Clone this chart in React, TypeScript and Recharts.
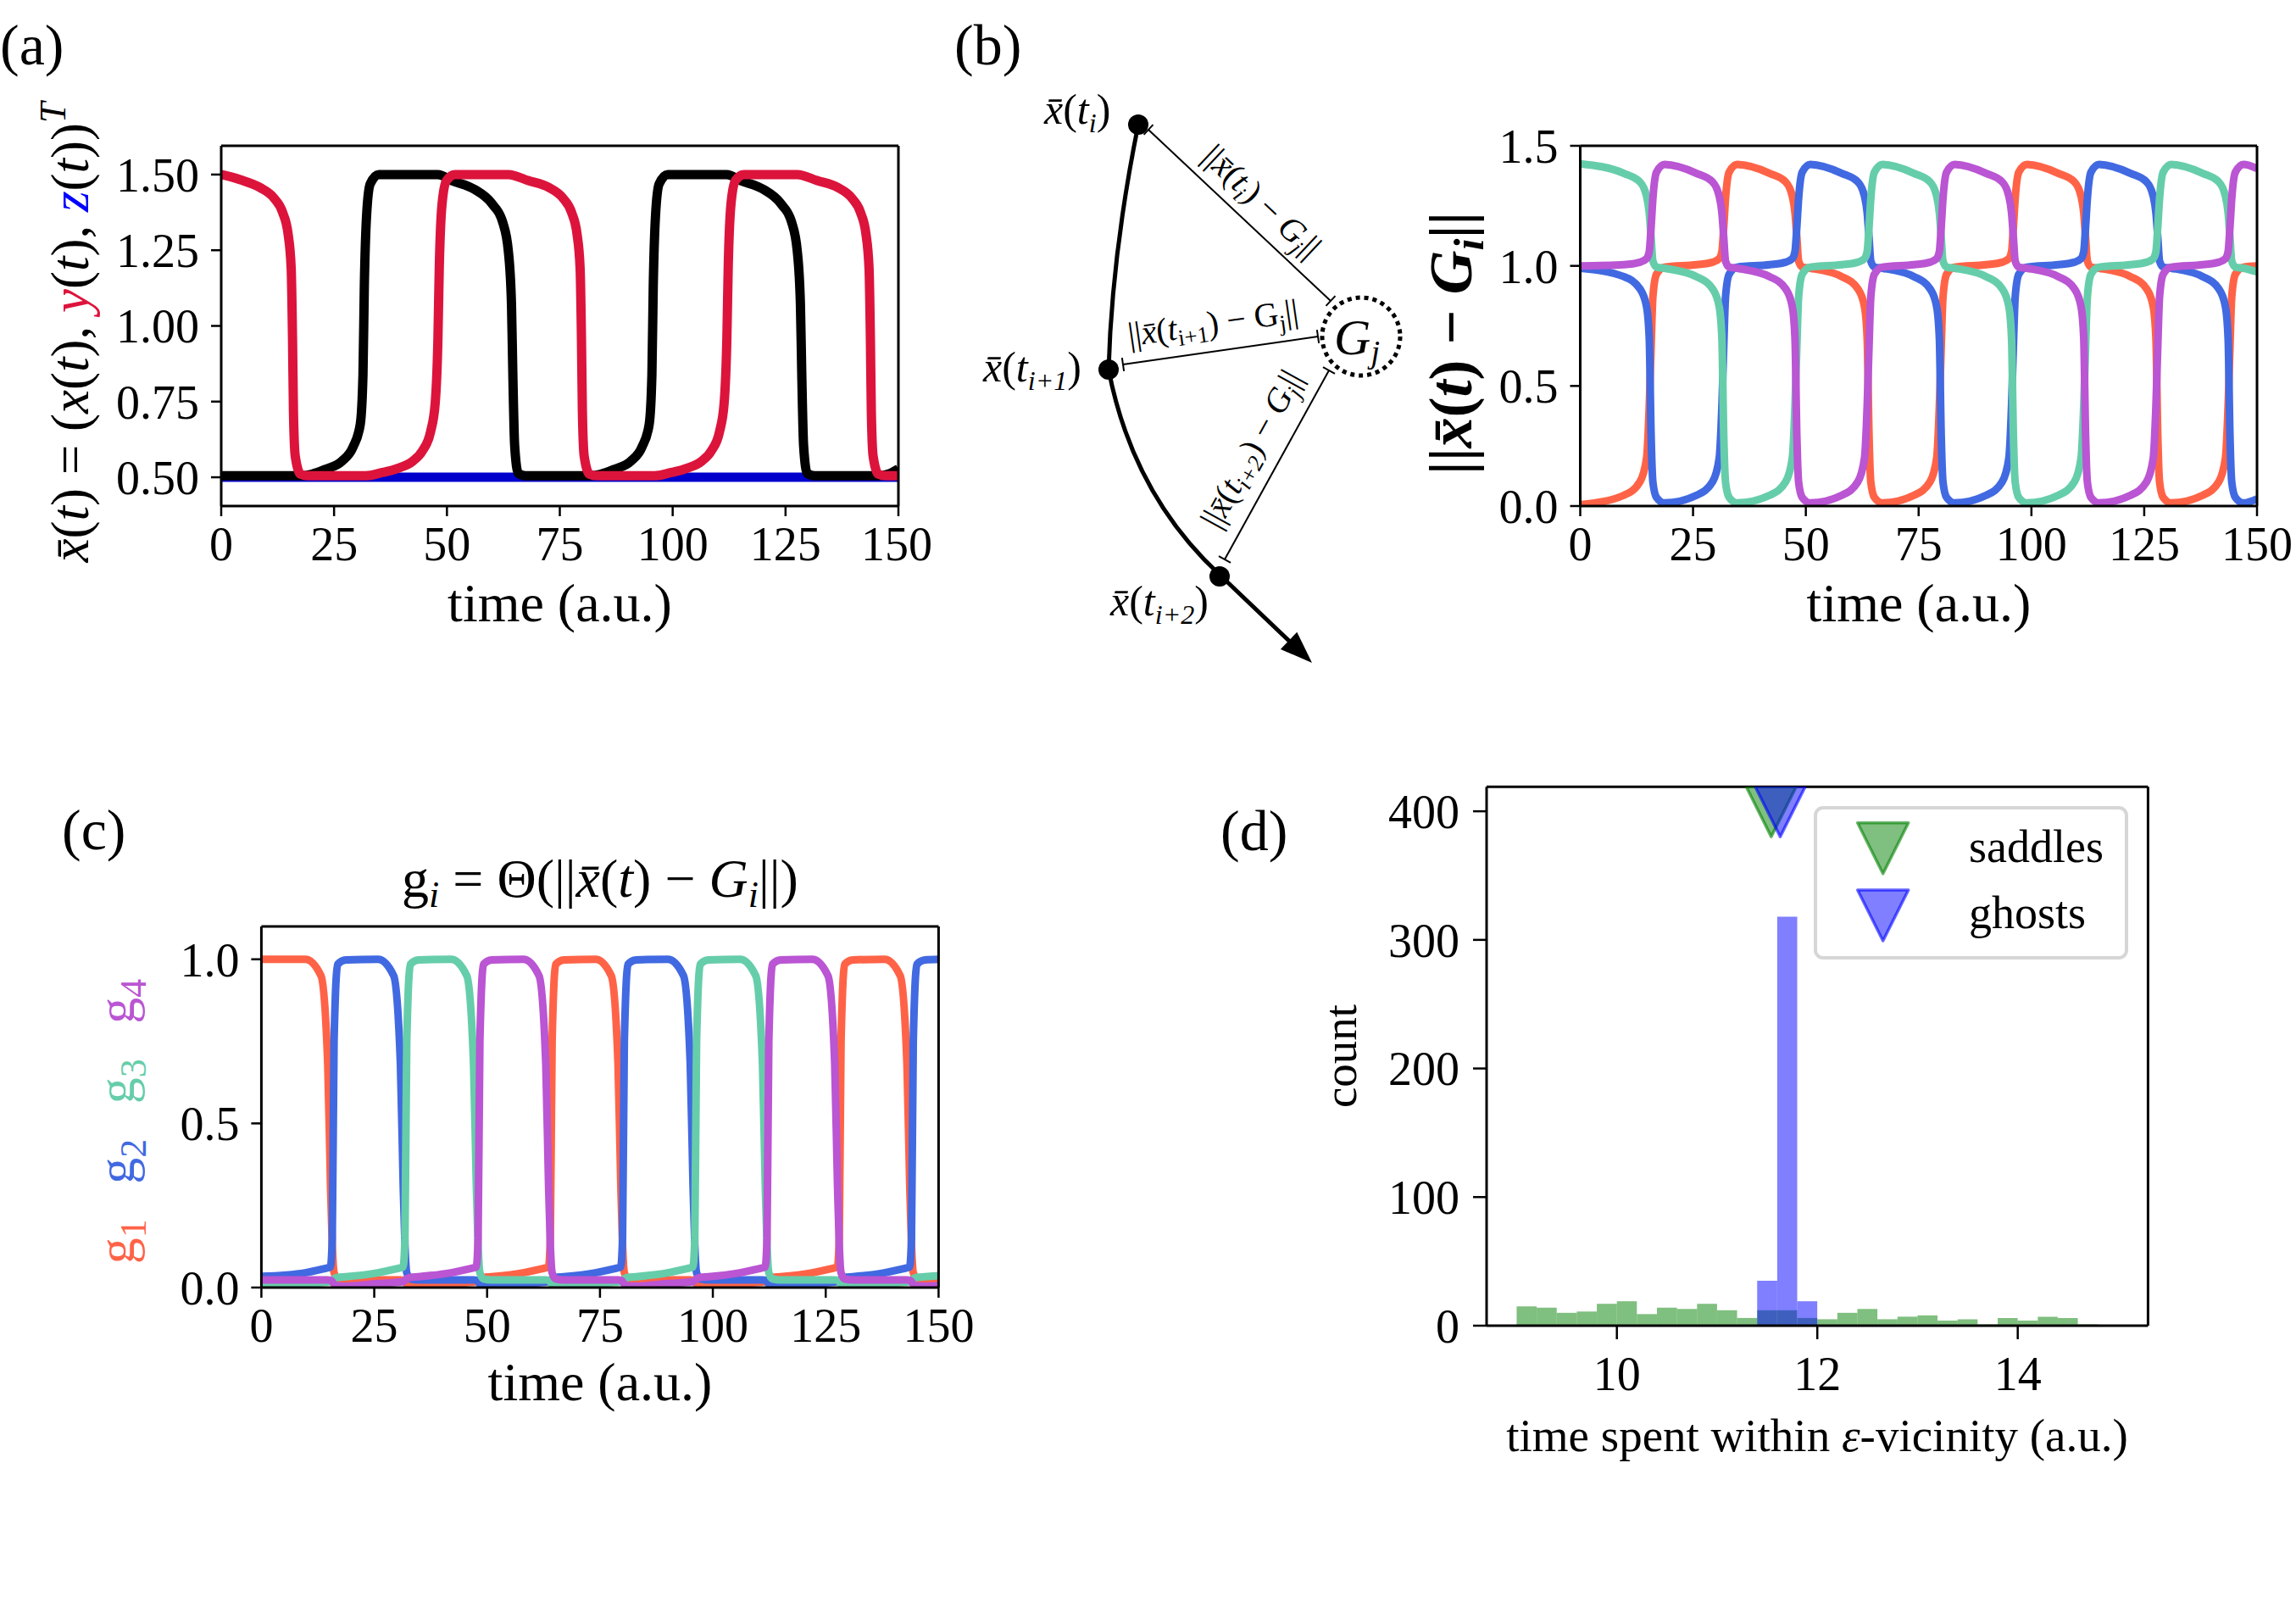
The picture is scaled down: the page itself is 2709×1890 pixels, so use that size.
import React from 'react';
import { LineChart, Line, XAxis, YAxis, ComposedChart, Bar, Scatter, ReferenceLine } from 'recharts';

const FONT = '"Liberation Serif", "Times New Roman", serif';

// ---------- panel (a): x(t), y(t), z(t) ----------
const xCurve: [number, number][] = [
  [0, 0.505], [17.6, 0.505], [20, 0.51], [23, 0.526], [26.7, 0.553], [29.2, 0.6], [30.8, 0.675],
  [31.4, 0.838], [31.7, 1.13], [32.2, 1.364], [33, 1.469], [34.9, 1.5], [48, 1.5], [51.1, 1.48],
  [56.1, 1.451], [59.9, 1.405], [62.4, 1.34], [63.6, 1.247], [64.3, 1.07], [64.6, 0.838],
  [65, 0.605], [65.8, 0.513], [67.4, 0.505], [81.6, 0.505], [84, 0.51], [87, 0.526],
  [90.7, 0.553], [93.2, 0.6], [94.8, 0.675], [95.4, 0.838], [95.7, 1.13], [96.2, 1.364],
  [97, 1.469], [98.9, 1.5], [112, 1.5], [115.1, 1.48], [120.1, 1.451], [123.9, 1.405],
  [126.4, 1.34], [127.6, 1.247], [128.3, 1.07], [128.6, 0.838], [129, 0.605], [129.8, 0.513],
  [131.4, 0.505], [145.6, 0.505], [148, 0.512], [150, 0.528],
];
const yCurve: [number, number][] = [
  [0, 1.5], [4.2, 1.483], [8.6, 1.457], [11.7, 1.422], [13.6, 1.375], [14.8, 1.305], [15.5, 1.19],
  [15.8, 0.955], [16, 0.72], [16.4, 0.57], [17.6, 0.51], [19.2, 0.505], [32, 0.505], [35.5, 0.515],
  [39.2, 0.53], [42.4, 0.553], [44.6, 0.588], [46.4, 0.652], [47.4, 0.745], [48, 0.955],
  [48.3, 1.19], [48.9, 1.4], [49.9, 1.48], [51.8, 1.5], [63.6, 1.5], [68, 1.48], [72.6, 1.457],
  [75.7, 1.422], [77.6, 1.375], [78.8, 1.305], [79.5, 1.19], [79.8, 0.955], [80, 0.72],
  [80.4, 0.57], [81.6, 0.51], [83.2, 0.505], [96, 0.505], [99.5, 0.515], [103.2, 0.53],
  [106.4, 0.553], [108.6, 0.588], [110.4, 0.652], [111.4, 0.745], [112, 0.955], [112.3, 1.19],
  [112.9, 1.4], [113.9, 1.48], [115.8, 1.5], [127.6, 1.5], [132, 1.48], [136.6, 1.457],
  [139.7, 1.422], [141.6, 1.375], [142.8, 1.305], [143.5, 1.19], [143.8, 0.955], [144, 0.72],
  [144.4, 0.57], [145.6, 0.51], [147.2, 0.505], [150, 0.505],
];
const zCurve: [number, number][] = [[0, 0.5], [150, 0.5]];

const timeTicks = [0, 25, 50, 75, 100, 125, 150];
const stateTicks = [0.5, 0.75, 1.0, 1.25, 1.5];

// ---------- panels (b) and (c): shared time grid ----------
const tGrid = [
  0,
  9.7, 13.2, 14.7, 15.3, 15.7, 16.1, 16.9, 18.7,
  25.8, 29.3, 30.8, 31.4, 31.8, 32.2, 33.0, 34.8,
  42.0, 45.5, 47.0, 47.6, 48.0, 48.4, 49.2, 51.0,
  58.0, 61.5, 63.0, 63.6, 64.0, 64.4, 65.2, 67.0,
  74.0, 77.5, 79.0, 79.6, 80.0, 80.4, 81.2, 83.0,
  90.0, 93.5, 95.0, 95.6, 96.0, 96.4, 97.2, 99.0,
  106.0, 109.5, 111.0, 111.6, 112.0, 112.4, 113.2, 115.0,
  122.0, 125.5, 127.0, 127.6, 128.0, 128.4, 129.2, 131.0,
  138.0, 141.5, 143.0, 143.6, 144.0, 144.4, 145.2, 147.0,
  150,
];

// ||x(t) - G_i||
const distG1 = [
  0.005,
  0.045, 0.10, 0.20, 0.42, 0.66, 0.87, 0.965, 0.995,
  1.005, 1.015, 1.03, 1.06, 1.16, 1.28, 1.39, 1.422,
  1.385, 1.35, 1.29, 1.22, 1.12, 1.02, 0.995, 0.99,
  0.955, 0.905, 0.83, 0.695, 0.30, 0.10, 0.036, 0.013,
  0.045, 0.10, 0.20, 0.42, 0.66, 0.87, 0.965, 0.995,
  1.005, 1.015, 1.03, 1.06, 1.16, 1.28, 1.39, 1.422,
  1.385, 1.35, 1.29, 1.22, 1.12, 1.02, 0.995, 0.99,
  0.955, 0.905, 0.83, 0.695, 0.30, 0.10, 0.036, 0.013,
  0.045, 0.10, 0.20, 0.42, 0.66, 0.87, 0.965, 0.995,
  1.0,
];
const distG2 = [
  0.99,
  0.955, 0.905, 0.83, 0.695, 0.30, 0.10, 0.036, 0.013,
  0.045, 0.10, 0.20, 0.42, 0.66, 0.87, 0.965, 0.995,
  1.005, 1.015, 1.03, 1.06, 1.16, 1.28, 1.39, 1.422,
  1.385, 1.35, 1.29, 1.22, 1.12, 1.02, 0.995, 0.99,
  0.955, 0.905, 0.83, 0.695, 0.30, 0.10, 0.036, 0.013,
  0.045, 0.10, 0.20, 0.42, 0.66, 0.87, 0.965, 0.995,
  1.005, 1.015, 1.03, 1.06, 1.16, 1.28, 1.39, 1.422,
  1.385, 1.35, 1.29, 1.22, 1.12, 1.02, 0.995, 0.99,
  0.955, 0.905, 0.83, 0.695, 0.30, 0.10, 0.036, 0.013,
  0.03,
];
const distG3 = [
  1.425,
  1.385, 1.35, 1.29, 1.22, 1.12, 1.02, 0.995, 0.99,
  0.955, 0.905, 0.83, 0.695, 0.30, 0.10, 0.036, 0.013,
  0.045, 0.10, 0.20, 0.42, 0.66, 0.87, 0.965, 0.995,
  1.005, 1.015, 1.03, 1.06, 1.16, 1.28, 1.39, 1.422,
  1.385, 1.35, 1.29, 1.22, 1.12, 1.02, 0.995, 0.99,
  0.955, 0.905, 0.83, 0.695, 0.30, 0.10, 0.036, 0.013,
  0.045, 0.10, 0.20, 0.42, 0.66, 0.87, 0.965, 0.995,
  1.005, 1.015, 1.03, 1.06, 1.16, 1.28, 1.39, 1.422,
  1.385, 1.35, 1.29, 1.22, 1.12, 1.02, 0.995, 0.99,
  0.975,
];
const distG4 = [
  1.0,
  1.005, 1.015, 1.03, 1.06, 1.16, 1.28, 1.39, 1.422,
  1.385, 1.35, 1.29, 1.22, 1.12, 1.02, 0.995, 0.99,
  0.955, 0.905, 0.83, 0.695, 0.30, 0.10, 0.036, 0.013,
  0.045, 0.10, 0.20, 0.42, 0.66, 0.87, 0.965, 0.995,
  1.005, 1.015, 1.03, 1.06, 1.16, 1.28, 1.39, 1.422,
  1.385, 1.35, 1.29, 1.22, 1.12, 1.02, 0.995, 0.99,
  0.955, 0.905, 0.83, 0.695, 0.30, 0.10, 0.036, 0.013,
  0.045, 0.10, 0.20, 0.42, 0.66, 0.87, 0.965, 0.995,
  1.005, 1.015, 1.03, 1.06, 1.16, 1.28, 1.39, 1.422,
  1.405,
];

// g_i = Theta(||x(t) - G_i||)
const gate1 = [
  1.0,
  1.0, 0.95, 0.68, 0.32, 0.13, 0.045, 0.026, 0.023,
  0.023, 0.023, 0.023, 0.022, 0.018, 0.01, 0.005, 0.004,
  0.012, 0.015, 0.017, 0.018, 0.021, 0.027, 0.031, 0.033,
  0.045, 0.055, 0.06, 0.063, 0.15, 0.75, 0.985, 0.998,
  1.0, 0.95, 0.68, 0.32, 0.13, 0.045, 0.026, 0.023,
  0.023, 0.023, 0.023, 0.022, 0.018, 0.01, 0.005, 0.004,
  0.012, 0.015, 0.017, 0.018, 0.021, 0.027, 0.031, 0.033,
  0.045, 0.055, 0.06, 0.063, 0.15, 0.75, 0.985, 0.998,
  1.0, 0.95, 0.68, 0.32, 0.13, 0.045, 0.026, 0.023,
  0.023,
];
const gate2 = [
  0.034,
  0.045, 0.055, 0.06, 0.063, 0.15, 0.75, 0.985, 0.998,
  1.0, 0.95, 0.68, 0.32, 0.13, 0.045, 0.026, 0.023,
  0.023, 0.023, 0.023, 0.022, 0.018, 0.01, 0.005, 0.004,
  0.012, 0.015, 0.017, 0.018, 0.021, 0.027, 0.031, 0.033,
  0.045, 0.055, 0.06, 0.063, 0.15, 0.75, 0.985, 0.998,
  1.0, 0.95, 0.68, 0.32, 0.13, 0.045, 0.026, 0.023,
  0.023, 0.023, 0.023, 0.022, 0.018, 0.01, 0.005, 0.004,
  0.012, 0.015, 0.017, 0.018, 0.021, 0.027, 0.031, 0.033,
  0.045, 0.055, 0.06, 0.063, 0.15, 0.75, 0.985, 0.998,
  1.0,
];
const gate3 = [
  0.004,
  0.012, 0.015, 0.017, 0.018, 0.021, 0.027, 0.031, 0.033,
  0.045, 0.055, 0.06, 0.063, 0.15, 0.75, 0.985, 0.998,
  1.0, 0.95, 0.68, 0.32, 0.13, 0.045, 0.026, 0.023,
  0.023, 0.023, 0.023, 0.022, 0.018, 0.01, 0.005, 0.004,
  0.012, 0.015, 0.017, 0.018, 0.021, 0.027, 0.031, 0.033,
  0.045, 0.055, 0.06, 0.063, 0.15, 0.75, 0.985, 0.998,
  1.0, 0.95, 0.68, 0.32, 0.13, 0.045, 0.026, 0.023,
  0.023, 0.023, 0.023, 0.022, 0.018, 0.01, 0.005, 0.004,
  0.012, 0.015, 0.017, 0.018, 0.021, 0.027, 0.031, 0.033,
  0.036,
];
const gate4 = [
  0.023,
  0.023, 0.023, 0.023, 0.022, 0.018, 0.01, 0.005, 0.004,
  0.012, 0.015, 0.017, 0.018, 0.021, 0.027, 0.031, 0.033,
  0.045, 0.055, 0.06, 0.063, 0.15, 0.75, 0.985, 0.998,
  1.0, 0.95, 0.68, 0.32, 0.13, 0.045, 0.026, 0.023,
  0.023, 0.023, 0.023, 0.022, 0.018, 0.01, 0.005, 0.004,
  0.012, 0.015, 0.017, 0.018, 0.021, 0.027, 0.031, 0.033,
  0.045, 0.055, 0.06, 0.063, 0.15, 0.75, 0.985, 0.998,
  1.0, 0.95, 0.68, 0.32, 0.13, 0.045, 0.026, 0.023,
  0.023, 0.023, 0.023, 0.022, 0.018, 0.01, 0.005, 0.004,
  0.006,
];

const ghostColors = ['#ff6347', '#4169e1', '#66cdaa', '#ba55d3'];

// ---------- panel (d): histogram ----------
const binCenters = [
  9.1, 9.3, 9.5, 9.7, 9.9, 10.1, 10.3, 10.5, 10.7, 10.9, 11.1, 11.3, 11.5, 11.7, 11.9,
  12.1, 12.3, 12.5, 12.7, 12.9, 13.1, 13.3, 13.5, 13.7, 13.9, 14.1, 14.3, 14.5, 14.7, 14.9,
];
const saddleCounts = [
  15, 14, 10, 11, 17, 19, 9, 14, 13, 17, 12, 6, 12, 12, 6,
  5, 10, 13, 5, 7, 8, 4, 5, 1, 6, 4, 7, 6, 1, 0,
];
const ghostBins = [11.5, 11.7, 11.9];
const ghostCounts = [35, 318, 19];
const saddleMean = [{ x: 11.54, y: 400 }];
const ghostMean = [{ x: 11.63, y: 400 }];

const tickStyle = { fontSize: 56, fill: '#000', fontFamily: 'Liberation Serif' };
const axisLine = { stroke: '#000', strokeWidth: 3 };
const tickLine = { stroke: '#000', strokeWidth: 2.5 };

const curveRows = (pts: [number, number][]) => pts.map(([t, v]) => ({ t, v }));
const distRows = tGrid.map((t, i) => ({ t, g1: distG1[i], g2: distG2[i], g3: distG3[i], g4: distG4[i] }));
const gateRows = tGrid.map((t, i) => ({ t, g1: gate1[i], g2: gate2[i], g3: gate3[i], g4: gate4[i] }));
const histRows = binCenters.map((x, i) => {
  const k = ghostBins.indexOf(x);
  return { x, saddles: saddleCounts[i], ghosts: k >= 0 ? ghostCounts[k] : 0 };
});

const triangle = (color: string) => (props: any) => {
  const { cx, cy } = props;
  const h = 30;
  return (
    <path
      d={`M${cx - h},${cy - h}L${cx + h},${cy - h}L${cx},${cy + h}Z`}
      fill={color}
      fillOpacity={0.5}
      stroke={color}
      strokeOpacity={0.6}
      strokeWidth={3.5}
      strokeLinejoin="round"
    />
  );
};

function Bracket({ x1, y1, x2, y2 }: { x1: number; y1: number; x2: number; y2: number }) {
  const len = Math.hypot(x2 - x1, y2 - y1);
  const nx = (-(y2 - y1) / len) * 8;
  const ny = ((x2 - x1) / len) * 8;
  return (
    <g stroke="#000" strokeWidth={2}>
      <line x1={x1} y1={y1} x2={x2} y2={y2} />
      <line x1={x1 - nx} y1={y1 - ny} x2={x1 + nx} y2={y1 + ny} />
      <line x1={x2 - nx} y1={y2 - ny} x2={x2 + nx} y2={y2 + ny} />
    </g>
  );
}

const XBAR = 'x\u0304';

export default function App() {
  return (
    <div style={{ position: 'relative', width: 2709, height: 1890, background: '#fff', fontFamily: FONT }}>
      <style>{'body{margin:0;background:#fff}'}</style>

      {/* (a) */}
      <div style={{ position: 'absolute', left: 0, top: 100 }}>
        <LineChart width={1100} height={577} margin={{ top: 72, right: 40, bottom: 0, left: 0 }}>
          <XAxis dataKey="t" type="number" domain={[0, 150]} ticks={timeTicks} height={80}
            tick={tickStyle} tickSize={12} tickMargin={12} axisLine={axisLine} tickLine={tickLine} allowDataOverflow />
          <YAxis type="number" domain={[0.405, 1.595]} ticks={stateTicks} width={261}
            tickFormatter={(v: number) => v.toFixed(2)} tick={tickStyle} tickSize={12} tickMargin={14}
            axisLine={axisLine} tickLine={tickLine} allowDataOverflow />
          <Line data={curveRows(zCurve)} dataKey="v" type="linear" stroke="#0000cd" strokeWidth={11}
            dot={false} isAnimationActive={false} />
          <Line data={curveRows(xCurve)} dataKey="v" type="monotone" stroke="#000" strokeWidth={11}
            dot={false} isAnimationActive={false} strokeLinejoin="round" />
          <Line data={curveRows(yCurve)} dataKey="v" type="monotone" stroke="#dc143c" strokeWidth={11}
            dot={false} isAnimationActive={false} strokeLinejoin="round" />
          <ReferenceLine y={1.595} stroke="#000" strokeWidth={3} />
          <ReferenceLine x={150} stroke="#000" strokeWidth={3} />
        </LineChart>
      </div>

      {/* (b) right */}
      <div style={{ position: 'absolute', left: 1600, top: 100 }}>
        <LineChart width={1109} height={577} data={distRows} margin={{ top: 72, right: 46, bottom: 0, left: 0 }}>
          <XAxis dataKey="t" type="number" domain={[0, 150]} ticks={timeTicks} height={80}
            tick={tickStyle} tickSize={12} tickMargin={12} axisLine={axisLine} tickLine={tickLine} allowDataOverflow />
          <YAxis type="number" domain={[0, 1.5]} ticks={[0, 0.5, 1, 1.5]} width={264.5}
            tickFormatter={(v: number) => v.toFixed(1)} tick={tickStyle} tickSize={12} tickMargin={14}
            axisLine={axisLine} tickLine={tickLine} allowDataOverflow />
          {['g1', 'g2', 'g3', 'g4'].map((k, i) => (
            <Line key={k} dataKey={k} type="monotone" stroke={ghostColors[i]} strokeWidth={9}
              dot={false} isAnimationActive={false} strokeLinejoin="round" />
          ))}
          <ReferenceLine y={1.5} stroke="#000" strokeWidth={3} />
          <ReferenceLine x={150} stroke="#000" strokeWidth={3} />
        </LineChart>
      </div>

      {/* (c) */}
      <div style={{ position: 'absolute', left: 0, top: 1000 }}>
        <LineChart width={1150} height={599} data={gateRows} margin={{ top: 93, right: 42.6, bottom: 0, left: 0 }}>
          <XAxis dataKey="t" type="number" domain={[0, 150]} ticks={timeTicks} height={80}
            tick={tickStyle} tickSize={12} tickMargin={12} axisLine={axisLine} tickLine={tickLine} allowDataOverflow />
          <YAxis type="number" domain={[0, 1.1]} ticks={[0, 0.5, 1]} width={308.4}
            tickFormatter={(v: number) => v.toFixed(1)} tick={tickStyle} tickSize={12} tickMargin={14}
            axisLine={axisLine} tickLine={tickLine} allowDataOverflow />
          {['g1', 'g2', 'g3', 'g4'].map((k, i) => (
            <Line key={k} dataKey={k} type="monotone" stroke={ghostColors[i]} strokeWidth={9}
              dot={false} isAnimationActive={false} strokeLinejoin="round" />
          ))}
          <ReferenceLine y={1.1} stroke="#000" strokeWidth={3} />
          <ReferenceLine x={150} stroke="#000" strokeWidth={3} />
        </LineChart>
      </div>

      {/* (d) */}
      <div style={{ position: 'absolute', left: 1500, top: 900 }}>
        <ComposedChart width={1100} height={810} data={histRows} margin={{ top: 28.3, right: 65.6, bottom: 66, left: 0 }}>
          <XAxis xAxisId="a" dataKey="x" type="number" domain={[8.7, 15.3]} ticks={[10, 12, 14]} height={80}
            tick={tickStyle} tickSize={16} tickMargin={20} axisLine={axisLine} tickLine={tickLine} allowDataOverflow />
          <XAxis xAxisId="b" dataKey="x" type="number" domain={[8.7, 15.3]} height={0} hide allowDataOverflow />
          <XAxis xAxisId="c" dataKey="x" type="number" domain={[8.7, 15.3]} height={0} hide allowDataOverflow />
          <YAxis type="number" domain={[0, 419]} ticks={[0, 100, 200, 300, 400]} width={254}
            tick={tickStyle} tickSize={16} tickMargin={16} axisLine={axisLine} tickLine={tickLine} allowDataOverflow />
          <Bar xAxisId="a" dataKey="saddles" fill="#008000" fillOpacity={0.5} barSize={23.6}
            isAnimationActive={false} />
          <Bar xAxisId="b" dataKey="ghosts" fill="#0000ff" fillOpacity={0.5} barSize={23.6}
            isAnimationActive={false} />
          <Scatter xAxisId="c" data={saddleMean} dataKey="y" shape={triangle('#008000')} isAnimationActive={false} />
          <Scatter xAxisId="c" data={ghostMean} dataKey="y" shape={triangle('#0000ff')} isAnimationActive={false} />
          <ReferenceLine xAxisId="a" y={419} stroke="#000" strokeWidth={3} />
          <ReferenceLine xAxisId="a" x={15.3} stroke="#000" strokeWidth={3} />
        </ComposedChart>
      </div>

      {/* text, legend and schematic */}
      <svg width={2709} height={1890} style={{ position: 'absolute', left: 0, top: 0, pointerEvents: 'none' }}
        fontFamily={FONT}>
        {/* panel letters */}
        <text x={0} y={76} fontSize={68}>(a)</text>
        <text x={1126} y={76} fontSize={68}>(b)</text>
        <text x={73} y={1002} fontSize={68}>(c)</text>
        <text x={1440} y={1003} fontSize={68}>(d)</text>

        {/* axis labels */}
        <text x={660.5} y={733} fontSize={64} textAnchor="middle">time (a.u.)</text>
        <text x={2264} y={733} fontSize={64} textAnchor="middle">time (a.u.)</text>
        <text x={708} y={1652} fontSize={64} textAnchor="middle">time (a.u.)</text>
        <text x={2144} y={1712} fontSize={55} textAnchor="middle">
          time spent within <tspan fontStyle="italic">ε</tspan>-vicinity (a.u.)
        </text>
        <text transform="translate(1600,1246) rotate(-90)" fontSize={55} textAnchor="middle">count</text>

        <text transform="translate(104,392) rotate(-90)" fontSize={63} textAnchor="middle">
          <tspan fontStyle="italic">{XBAR}</tspan>(<tspan fontStyle="italic">t</tspan>) = (<tspan fontStyle="italic">x</tspan>(<tspan fontStyle="italic">t</tspan>), <tspan fontStyle="italic" fill="#dc143c">y</tspan>(<tspan fontStyle="italic">t</tspan>), <tspan fontStyle="italic" fill="#0000ff">z</tspan>(<tspan fontStyle="italic">t</tspan>))<tspan dy={-27} fontSize={44} fontStyle="italic">T</tspan>
        </text>

        <text transform="translate(1736,405) rotate(-90)" fontSize={72} fontWeight="bold" textAnchor="middle">
          ||<tspan fontStyle="italic">{XBAR}</tspan>(<tspan fontStyle="italic">t</tspan>)  −  <tspan fontStyle="italic">G</tspan><tspan dy={14} fontSize={50} fontStyle="italic">i</tspan><tspan dy={-14}>||</tspan>
        </text>

        {/* (c) title and label */}
        <text x={708} y={1058} fontSize={64} textAnchor="middle">
          g<tspan dy={12} fontSize={44} fontStyle="italic">i</tspan><tspan dy={-12}> = Θ(||</tspan><tspan fontStyle="italic">{XBAR}</tspan>(<tspan fontStyle="italic">t</tspan>) − <tspan fontStyle="italic">G</tspan><tspan dy={12} fontSize={44} fontStyle="italic">i</tspan><tspan dy={-12}>||)</tspan>
        </text>
        <text transform="translate(158,1323) rotate(-90)" fontSize={62} textAnchor="middle">
          {[0, 1, 2, 3].map((i) => (
            <React.Fragment key={i}>
              <tspan fill={ghostColors[i]} dx={i === 0 ? 0 : 26}>g</tspan>
              <tspan fill={ghostColors[i]} dy={14} fontSize={44}>{i + 1}</tspan>
              <tspan dy={-14}> </tspan>
            </React.Fragment>
          ))}
        </text>

        {/* (d) legend */}
        <rect x={2142} y={953} width={367} height={177} rx={9} fill="#fff" fillOpacity={0.8}
          stroke="#d6d6d6" strokeWidth={4} />
        {triangle('#008000')({ cx: 2221.7, cy: 1000.8 })}
        {triangle('#0000ff')({ cx: 2221.7, cy: 1080 })}
        <text x={2323} y={1017} fontSize={54}>saddles</text>
        <text x={2323} y={1095} fontSize={54}>ghosts</text>

        {/* (b) schematic */}
        <path d="M1343,147 Q1312,300 1308,436 Q1336.5,583 1439,678 L1525,760" fill="none" stroke="#000"
          strokeWidth={5} />
        <path d="M1548,782 L1510.9,765.9 L1530.3,745.7 Z" fill="#000" />
        <circle cx={1343} cy={147} r={12} fill="#000" />
        <circle cx={1308} cy={436} r={12} fill="#000" />
        <circle cx={1439} cy={680} r={12} fill="#000" />
        <circle cx={1606} cy={397} r={46} fill="none" stroke="#000" strokeWidth={5} strokeDasharray="5 5" />
        <text x={1601} y={418} fontSize={60} textAnchor="middle">
          <tspan fontStyle="italic">G</tspan><tspan dy={10} fontSize={38} fontStyle="italic">j</tspan>
        </text>

        <Bracket x1={1355} y1={153} x2={1570} y2={355} />
        <Bracket x1={1325} y1={430} x2={1555} y2={397} />
        <Bracket x1={1445} y1={660} x2={1568} y2={437} />

        <text x={1232} y={146} fontSize={50}>
          <tspan fontStyle="italic">{XBAR}</tspan>(<tspan fontStyle="italic">t</tspan><tspan dy={10} fontSize={32} fontStyle="italic">i</tspan><tspan dy={-10}>)</tspan>
        </text>
        <text x={1160} y={450} fontSize={50}>
          <tspan fontStyle="italic">{XBAR}</tspan>(<tspan fontStyle="italic">t</tspan><tspan dy={10} fontSize={32} fontStyle="italic">i+1</tspan><tspan dy={-10}>)</tspan>
        </text>
        <text x={1310} y={726} fontSize={50}>
          <tspan fontStyle="italic">{XBAR}</tspan>(<tspan fontStyle="italic">t</tspan><tspan dy={10} fontSize={32} fontStyle="italic">i+2</tspan><tspan dy={-10}>)</tspan>
        </text>

        <text transform="translate(1480,247) rotate(43.2)" fontSize={40} textAnchor="middle">
          ||<tspan fontStyle="italic">{XBAR}</tspan>(<tspan fontStyle="italic">t</tspan><tspan dy={8} fontSize={27} fontStyle="italic">i</tspan><tspan dy={-8}>) − </tspan><tspan fontStyle="italic">G</tspan><tspan dy={8} fontSize={27} fontStyle="italic">j</tspan><tspan dy={-8}>||</tspan>
        </text>
        <text transform="translate(1433,394) rotate(-8.2)" fontSize={40} textAnchor="middle">
          ||<tspan fontStyle="italic">{XBAR}</tspan>(<tspan fontStyle="italic">t</tspan><tspan dy={8} fontSize={27}>i+1</tspan><tspan dy={-8}>) − G</tspan><tspan dy={8} fontSize={27}>j</tspan><tspan dy={-8}>||</tspan>
        </text>
        <text transform="translate(1488,536) rotate(-61.1)" fontSize={40} textAnchor="middle">
          ||<tspan fontStyle="italic">{XBAR}</tspan>(<tspan fontStyle="italic">t</tspan><tspan dy={8} fontSize={27} fontStyle="italic">i+2</tspan><tspan dy={-8}>) − </tspan><tspan fontStyle="italic">G</tspan><tspan dy={8} fontSize={27} fontStyle="italic">j</tspan><tspan dy={-8}>||</tspan>
        </text>
      </svg>
    </div>
  );
}
